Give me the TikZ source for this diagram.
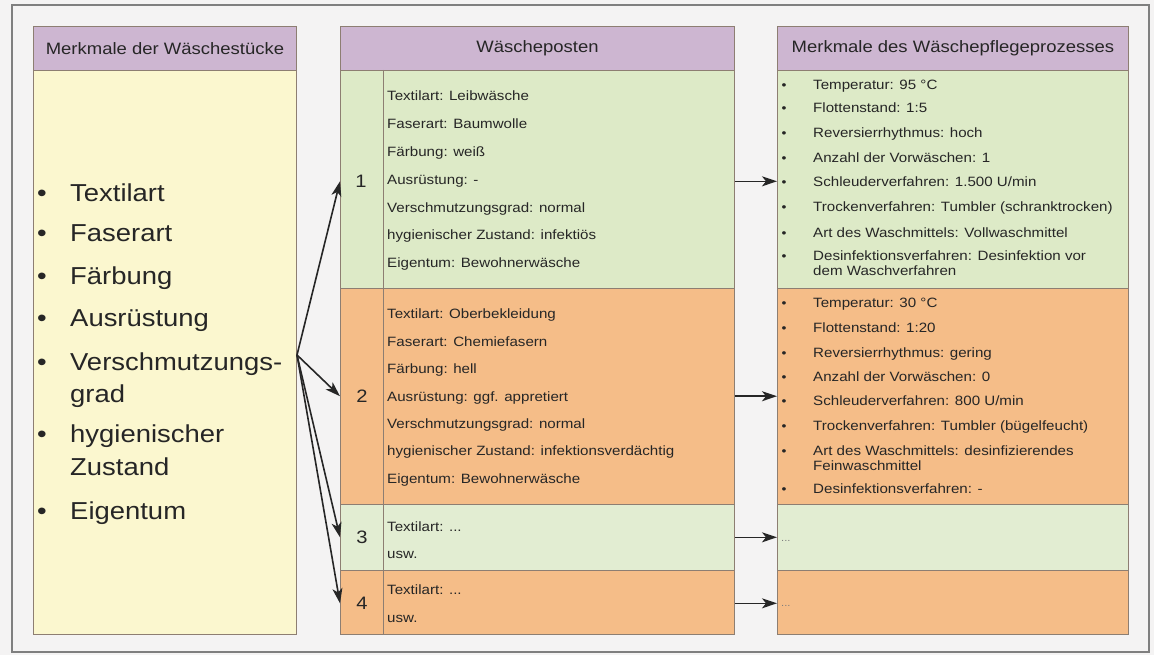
\documentclass[tikz,border=0pt]{standalone}
\usepackage{fontspec}
\setmainfont{Liberation Sans}[FakeStretch=1.12]
\usetikzlibrary{arrows.meta,calc}
\definecolor{bg}{HTML}{F4F3F3}
\definecolor{framec}{HTML}{7F7F7F}
\definecolor{lilac}{HTML}{CDB6D1}
\definecolor{cream}{HTML}{FBF7CF}
\definecolor{lgreen}{HTML}{DDEAC7}
\definecolor{lgreenb}{HTML}{E2EDD2}
\definecolor{orng}{HTML}{F5BD88}
\definecolor{edgec}{HTML}{8D7E72}
\definecolor{ink}{HTML}{262626}
\tikzset{
  panel/.style={draw=edgec, line width=0.9pt, inner sep=0pt, anchor=north west, rectangle},
  head/.style={panel, fill=lilac, minimum height=44pt, text=ink, font=\fontsize{16.5}{20}\selectfont},
  txt/.style={inner sep=0pt, anchor=base west, text=ink, font=\fontsize{13.5}{16}\selectfont},
  bul/.style={inner sep=0pt, anchor=base, text=ink, font=\fontsize{12.5}{14}\selectfont},
  bigtxt/.style={inner sep=0pt, anchor=base west, text=ink, font=\fontsize{24.5}{29}\selectfont},
  bigbul/.style={inner sep=0pt, anchor=base, text=ink, font=\fontsize{24.5}{29}\selectfont},
  num/.style={inner sep=0pt, anchor=base, text=ink, font=\fontsize{18}{20}\selectfont},
  dots/.style={inner sep=0pt, anchor=base west, text=ink!60, font=\fontsize{10}{12}\selectfont},
  arr/.style={draw=black!85, line width=1.6pt, -{Stealth[length=15pt,width=10pt,inset=4pt]}}
}
\begin{document}
\begin{tikzpicture}[x=1pt,y=-1pt]
\useasboundingbox (0,0) rectangle (1154,655);
\fill[bg] (0,0) rectangle (1154,655);
\draw[framec, line width=1.2pt] (12,5) rectangle (1149,652);

% left panel
\node[head, minimum width=263pt] (lh) at (33,26) {Merkmale der Wäschestücke};
\node[panel, fill=cream, minimum width=263pt, minimum height=564pt] (lb) at (33,70) {};

% middle panel
\node[head, minimum width=394pt] (mh) at (340,26) {Wäscheposten};
\node[panel, fill=lgreen, minimum width=394pt, minimum height=218pt] (m1) at (340,70) {};
\node[panel, fill=orng, minimum width=394pt, minimum height=216pt] (m2) at (340,288) {};
\node[panel, fill=lgreenb, minimum width=394pt, minimum height=66pt] (m3) at (340,504) {};
\node[panel, fill=orng, minimum width=394pt, minimum height=64pt] (m4) at (340,570) {};
\draw[edgec, line width=0.9pt] (383,70) -- (383,634);

% right panel
\node[head, minimum width=351pt] (rh) at (777,26) {Merkmale des Wäschepflegeprozesses};
\node[panel, fill=lgreen, minimum width=351pt, minimum height=218pt] (r1) at (777,70) {};
\node[panel, fill=orng, minimum width=351pt, minimum height=216pt] (r2) at (777,288) {};
\node[panel, fill=lgreenb, minimum width=351pt, minimum height=66pt] (r3) at (777,504) {};
\node[panel, fill=orng, minimum width=351pt, minimum height=64pt] (r4) at (777,570) {};

% left list
\foreach \y in {202,242,284,326,370,442,519}{\node[bigbul] at (42,\y) {•};}
\node[bigtxt] (l1) at (70,202) {Textilart};
\node[bigtxt] (l2) at (70,242) {Faserart};
\node[bigtxt] (l3) at (70,284) {Färbung};
\node[bigtxt] (l4) at (70,326) {Ausrüstung};
\node[bigtxt] (l5) at (70,370) {Verschmutzungs-};
\node[bigtxt] (l5b) at (70,402) {grad};
\node[bigtxt] (l6) at (70,442) {hygienischer};
\node[bigtxt] (l6b) at (70,475) {Zustand};
\node[bigtxt] (l7) at (70,519) {Eigentum};

% middle texts
\node[txt] at (387,101) {Textilart: Leibwäsche};
\node[txt] at (387,129) {Faserart: Baumwolle};
\node[txt] at (387,157) {Färbung: weiß};
\node[txt] at (387,185) {Ausrüstung: -};
\node[txt] at (387,213) {Verschmutzungsgrad: normal};
\node[txt] at (387,240) {hygienischer Zustand: infektiös};
\node[txt] at (387,267) {Eigentum: Bewohnerwäsche};

\node[txt] at (387,318) {Textilart: Oberbekleidung};
\node[txt] at (387,346) {Faserart: Chemiefasern};
\node[txt] at (387,373) {Färbung: hell};
\node[txt] at (387,401) {Ausrüstung: ggf. appretiert};
\node[txt] at (387,428) {Verschmutzungsgrad: normal};
\node[txt] at (387,455) {hygienischer Zustand: infektionsverdächtig};
\node[txt] at (387,483) {Eigentum: Bewohnerwäsche};

\node[txt] at (387,531) {Textilart: ...};
\node[txt] at (387,558) {usw.};
\node[txt] at (387,594) {Textilart: ...};
\node[txt] at (387,622) {usw.};

% numbers
\node[num] (n1) at (361,187.5) {1};
\node[num] (n2) at (362,402.5) {2};
\node[num] (n3) at (362,543.5) {3};
\node[num] (n4) at (362,609.5) {4};

% right texts
\foreach \y in {90,113,138,163,187,212,237,260,307,332,357,381,405,430,455,493}{\node[bul] at (784,\y) {•};}
\node[txt] at (813,90) {Temperatur: 95 °C};
\node[txt] at (813,113) {Flottenstand: 1:5};
\node[txt] at (813,138) {Reversierrhythmus: hoch};
\node[txt] at (813,163) {Anzahl der Vorwäschen: 1};
\node[txt] at (813,187) {Schleuderverfahren: 1.500 U/min};
\node[txt] at (813,212) {Trockenverfahren: Tumbler (schranktrocken)};
\node[txt] at (813,237) {Art des Waschmittels: Vollwaschmittel};
\node[txt] at (813,260) {Desinfektionsverfahren: Desinfektion vor};
\node[txt] at (813,276) {dem Waschverfahren};

\node[txt] at (813,307) {Temperatur: 30 °C};
\node[txt] at (813,332) {Flottenstand: 1:20};
\node[txt] at (813,357) {Reversierrhythmus: gering};
\node[txt] at (813,381) {Anzahl der Vorwäschen: 0};
\node[txt] at (813,405) {Schleuderverfahren: 800 U/min};
\node[txt] at (813,430) {Trockenverfahren: Tumbler (bügelfeucht)};
\node[txt] at (813,455) {Art des Waschmittels: desinfizierendes};
\node[txt] at (813,470) {Feinwaschmittel};
\node[txt] at (813,493) {Desinfektionsverfahren: -};

\node[dots] (d3) at (781,541) {...};
\node[dots] (d4) at (781,606) {...};

% connectors
\coordinate (J) at (297,355);
\draw[arr] (J) -- (n1 -| m1.west);
\draw[arr] (J) -- (n2 -| m2.west);
\draw[arr] (J) -- (n3 -| m3.west);
\draw[arr] (J) -- (n4 -| m4.west);

\draw[arr] (n1 -| m1.east) -- (n1 -| r1.west);
\draw[arr] (n2 -| m2.east) -- (n2 -| r2.west);
\draw[arr] (n3 -| m3.east) -- (n3 -| r3.west);
\draw[arr] (n4 -| m4.east) -- (n4 -| r4.west);
\end{tikzpicture}
\end{document}
